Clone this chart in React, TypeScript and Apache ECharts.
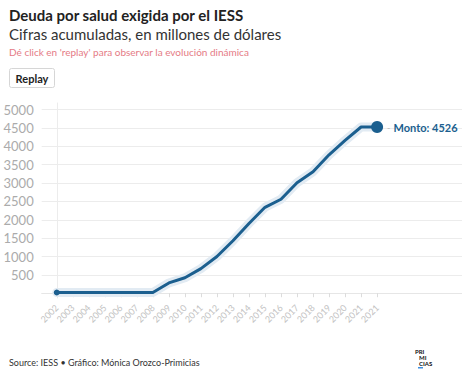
import React, { useEffect, useRef } from 'react';
import * as echarts from 'echarts';

const categories = ['2002', '2003', '2004', '2005', '2006', '2007', '2008', '2009', '2010', '2011', '2012', '2013', '2014', '2015', '2016', '2017', '2018', '2019', '2020', '2021', '2021'];
const values = [20, 20, 20, 20, 20, 20, 20, 280, 420, 670, 1000, 1430, 1900, 2340, 2560, 3010, 3310, 3770, 4160, 4526, 4526];
const yTicks = [500, 1000, 1500, 2000, 2500, 3000, 3500, 4000, 4500, 5000];

const title = 'Deuda por salud exigida por el IESS';
const subtitle = 'Cifras acumuladas, en millones de dólares';
const note = "Dé click en 'replay' para observar la evolución dinámica";
const source = 'Source: IESS • Gráfico: Mónica Orozco-Primicias';
const labelPrefix = 'Monto: ';
const logoLines = ['PRI', 'MI', 'CIAS'];

const FONT = 'Lato, "Noto Sans", sans-serif';
const BLUE = '#1b5f8f';

export default function App() {
  const ref = useRef<HTMLDivElement>(null);
  useEffect(() => {
    if (!ref.current) return;
    const chart = echarts.init(ref.current, undefined, { renderer: 'svg' });
    const idx = categories.map((_, i) => i);
    const pairs = values.map((v, i) => [i, v]);
    const last = values.length - 1;
    const mainData = pairs.map((p, i) => {
      if (i === 0) return { value: p, symbol: 'circle', symbolSize: 6 };
      if (i === last)
        return {
          value: p,
          symbol: 'circle',
          symbolSize: 12,
          label: {
            show: true,
            position: 'right',
            distance: 4,
            formatter: () => `{d|-} {b|${labelPrefix}${values[last]}}`,
            rich: {
              d: { color: '#bbb', fontSize: 9, fontFamily: FONT },
              b: { color: BLUE, fontSize: 11, fontWeight: 'bold', fontFamily: FONT },
            },
          },
        };
      return { value: p, symbol: 'none' };
    });
    chart.setOption({
      animation: false,
      textStyle: { fontFamily: FONT },
      grid: { left: 41.7, right: 0, top: 103, bottom: 86, containLabel: false },
      xAxis: {
        type: 'value',
        min: -0.94,
        max: 25.3,
        splitLine: { show: false },
        axisLine: { show: true, lineStyle: { color: '#e6e6e6', width: 1 } },
        axisTick: { show: true, customValues: idx, length: 4, lineStyle: { color: '#dcdcdc' } },
        axisLabel: {
          customValues: idx,
          rotate: 45,
          fontSize: 9,
          color: '#c2c2c2',
          margin: 8,
          fontFamily: FONT,
          formatter: (v: number) => categories[Math.round(v)],
        },
      },
      yAxis: {
        type: 'value',
        min: -130,
        max: 5180,
        axisLine: { show: true, lineStyle: { color: '#ececec', width: 1 } },
        axisTick: { show: false, customValues: yTicks },
        axisLabel: {
          customValues: yTicks,
          fontSize: 13,
          color: '#ababab',
          margin: 8,
          fontFamily: FONT,
          formatter: (v: number) => String(v),
        },
        splitLine: { show: true, lineStyle: { color: '#ececec', width: 1 } },
      },
      series: [
        {
          type: 'line',
          data: pairs,
          symbol: 'none',
          silent: true,
          z: 1,
          lineStyle: { color: '#e2ebf3', width: 9, join: 'round', cap: 'round' },
        },
        {
          type: 'line',
          data: mainData,
          symbol: 'none',
          z: 3,
          itemStyle: { color: BLUE },
          lineStyle: { color: BLUE, width: 3, join: 'round' },
        },
      ],
      graphic: [
        { type: 'text', x: 9, y: 15, style: { text: title, fill: '#222', font: `bold 15px ${FONT}`, verticalAlign: 'middle' } },
        { type: 'text', x: 9, y: 34, style: { text: subtitle, fill: '#333', font: `15px ${FONT}`, verticalAlign: 'middle' } },
        { type: 'text', x: 9, y: 52, style: { text: note, fill: '#e57b85', font: `10px ${FONT}`, verticalAlign: 'middle' } },
        {
          type: 'rect',
          shape: { x: 9.5, y: 68.5, width: 45, height: 19, r: 2 },
          style: { fill: '#fff', stroke: '#d6d6d6', lineWidth: 1 },
        },
        { type: 'text', x: 32, y: 78, style: { text: 'Replay', fill: '#222', font: `bold 11px ${FONT}`, align: 'center', verticalAlign: 'middle' } },
        { type: 'text', x: 9, y: 362, style: { text: source, fill: '#333', font: `9px ${FONT}`, verticalAlign: 'middle' } },
        { type: 'text', x: 415, y: 351, style: { text: logoLines[0], fill: '#111', font: `bold 6px ${FONT}`, verticalAlign: 'middle' } },
        { type: 'text', x: 419, y: 357, style: { text: logoLines[1], fill: '#111', font: `bold 6px ${FONT}`, verticalAlign: 'middle' } },
        { type: 'text', x: 419, y: 363, style: { text: logoLines[2], fill: '#111', font: `bold 6px ${FONT}`, verticalAlign: 'middle' } },
        { type: 'rect', shape: { x: 418, y: 367, width: 5, height: 1.5 }, style: { fill: '#3d8fe0' } },
      ],
    });
    return () => chart.dispose();
  }, []);
  return <div ref={ref} style={{ position: 'fixed', left: 0, top: 0, width: 462, height: 384, background: '#fff' }} />;
}
